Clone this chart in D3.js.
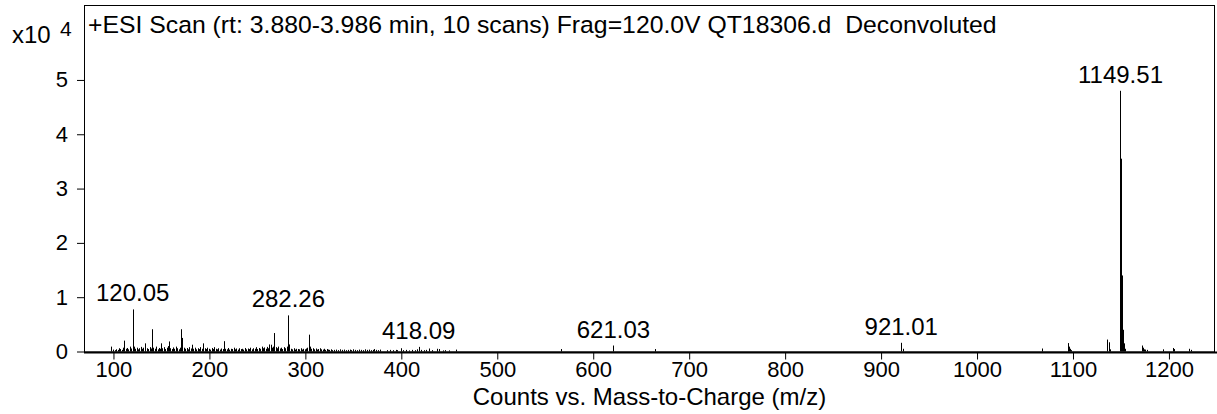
<!DOCTYPE html>
<html><head><meta charset="utf-8">
<script src="https://cdn.jsdelivr.net/npm/d3@7"></script>
<style>
body{margin:0;background:#fff}
text{font-family:"Liberation Sans",Arial,sans-serif;fill:#000}
</style>
</head><body>
<svg id="c" width="1217" height="414"></svg>
<script>
// ---- data (m/z, counts) ----
const mz = [
97.7,99.5,101.2,102.8,104.3,105.6,107.1,108.4,109.8,111.3,112.6,114.1,115.5,116.8,118.2,120.05,121.2,122.6,124.1,125.5,
127.0,128.4,129.9,131.2,133.3,134.8,136.2,137.7,139.1,140.3,141.6,143.1,144.5,145.9,147.3,148.6,149.8,151.1,152.5,154.0,
155.4,156.7,157.9,159.3,160.8,162.2,163.5,165.0,166.4,167.8,169.1,170.3,171.9,173.3,174.8,176.2,177.6,179.0,180.5,182.0,
183.4,184.9,186.3,187.7,189.1,190.6,192.0,193.6,195.0,196.5,197.9,199.3,200.8,202.2,203.7,205.1,206.5,208.0,209.4,210.9,
212.3,213.7,215.0,216.5,218.0,219.4,220.9,222.3,223.8,225.2,226.7,228.1,229.6,231.0,232.5,233.9,235.4,236.8,238.3,239.7,
241.2,242.6,244.1,245.5,247.0,248.4,249.9,251.3,252.8,254.3,255.7,257.2,258.6,260.1,261.5,262.6,264.0,265.4,266.5,267.6,
268.9,270.3,271.8,273.2,274.7,276.1,277.6,279.0,280.5,282.26,283.4,284.9,286.3,287.8,289.2,290.7,292.1,293.6,295.0,296.5,
297.9,299.4,300.8,302.2,303.5,304.8,306.2,307.7,309.1,310.6,312.0,313.5,315.0,316.4,317.9,319.3,320.8,322.2,323.7,325.1,
326.6,328.0,330.0,332.0,334.0,336.0,338.0,340.0,342.0,344.0,346.0,348.0,350.0,352.0,354.0,356.0,358.0,360.0,362.0,364.0,
366.0,368.0,370.0,372.0,374.0,376.0,378.0,385,388,391,394,396,399.3,402,405,408,411,414,416,418.09,
421,424,426,429,432,436.8,439.6,443,446,450,457,
566,621.03,664.4,921.01,922.5,1067.4,1094.5,1095.3,1096.3,1097.3,1098.3,1135.7,1137.5,1138.6,
1149.51,1150.5,1151.5,1152.5,1153.5,1154.5,1172.3,1173.3,1174.3,1175.5,1177,1194,1204.5,1205.5,1221,1222.5
];
const counts = [
900,350,250,400,300,600,450,300,700,2000,500,650,400,900,550,7750,900,500,700,400,
600,850,500,700,1500,600,450,800,550,4100,700,500,900,400,650,500,1500,600,800,450,
700,1000,1850,600,450,750,500,900,600,400,700,4100,2500,700,500,650,400,800,550,1250,
500,700,400,600,450,800,500,1500,600,450,700,500,350,650,450,800,500,400,600,350,
550,450,1900,500,400,650,350,500,450,700,400,550,350,600,450,500,350,650,400,550,
450,700,400,600,500,800,450,650,500,900,600,750,500,850,600,1300,1250,700,900,3400,
800,600,900,550,700,450,800,600,900,6650,1300,500,400,600,350,500,450,400,600,350,
500,400,550,700,3100,900,500,600,400,550,350,450,600,400,350,500,300,450,350,300,
400,250,300,350,250,400,300,350,250,300,350,250,400,300,250,350,300,250,400,300,
350,250,300,450,300,250,350,250,300,250,300,250,600,250,300,200,300,250,400,850,
300,250,300,550,250,500,450,200,250,200,350,
450,1100,450,1600,500,550,1100,1550,900,500,250,2200,1700,400,
48000,35500,14000,4000,1500,500,1100,700,400,350,300,400,650,450,500,300
];
const labeledPeaks = [120.05, 282.26, 418.09, 621.03, 921.01, 1149.51];
const xTicks = [100,200,300,400,500,600,700,800,900,1000,1100,1200];
const yTicks = [0,10000,20000,30000,40000,50000];
const yTickLabels = ["0","1","2","3","4","5"];
const titleText = "+ESI Scan (rt: 3.880-3.986 min, 10 scans) Frag=120.0V QT18306.d  Deconvoluted";
const xTitle = "Counts vs. Mass-to-Charge (m/z)";
const yMult = "x10";
const yExp = "4";

// ---- drawing ----
const FONT = '"Liberation Sans",Arial,sans-serif';
const svg = d3.select("#c");
const L = 84, R = 1215, T = 5, B = 351.5;
const x = d3.scaleLinear().domain([69.3, 1248]).range([L, R]);
const y = d3.scaleLinear().domain([0, 63800]).range([B, T]);

const data = mz.map((m, i) => ({m, c: counts[i]}));

// sticks
svg.append("g").selectAll("line").data(data).join("line")
  .attr("x1", d => Math.round(x(d.m)) + 0.5).attr("x2", d => Math.round(x(d.m)) + 0.5)
  .attr("y1", y(0)).attr("y2", d => y(d.c))
  .attr("stroke", "#000").attr("stroke-width", 1);

// frame
svg.append("rect").attr("x", L + 0.5).attr("y", T + 0.5)
  .attr("width", R - L - 1).attr("height", B - T)
  .attr("fill", "none").attr("stroke", "#000").attr("stroke-width", 1);

// x axis
const xAxis = d3.axisBottom(x).tickValues(xTicks).tickFormat(d3.format("d"))
  .tickSize(7).tickSizeOuter(0).tickPadding(2);
const gx = svg.append("g").attr("transform", `translate(0,${B + 1})`).call(xAxis);
gx.select(".domain").remove();
gx.selectAll("text").style("font-size", "22px").style("font-family", FONT);
svg.append("line").attr("x1", L).attr("x2", R + 2).attr("y1", B + 1).attr("y2", B + 1)
  .attr("stroke", "#000").attr("stroke-width", 2);

// y axis
const yAxis = d3.axisLeft(y).tickValues(yTicks).tickFormat((d, i) => yTickLabels[i])
  .tickSize(7).tickSizeOuter(0).tickPadding(9);
const gy = svg.append("g").attr("transform", `translate(${L},0)`).call(yAxis);
gy.select(".domain").remove();
gy.selectAll("text").style("font-size", "22px").style("font-family", FONT);

// multiplier
svg.append("text").attr("x", 12).attr("y", 43).style("font-size", "24px").text(yMult);
svg.append("text").attr("x", 60).attr("y", 36).style("font-size", "21px").text(yExp);

// title
const t = svg.append("text").attr("x", 88).attr("y", 33).style("white-space", "pre")
  .style("font-size", "20px").text(titleText);
const w = t.node().getComputedTextLength();
t.style("font-size", (20 * 909 / w).toFixed(2) + "px");

// x axis title
svg.append("text").attr("x", (L + R) / 2).attr("y", 405).attr("text-anchor", "middle")
  .style("font-size", "24px").text(xTitle);

// peak labels
svg.append("g").selectAll("text").data(data.filter(d => labeledPeaks.includes(d.m))).join("text")
  .attr("x", d => x(d.m)).attr("y", d => y(d.c) - 8).attr("text-anchor", "middle")
  .style("font-size", "24px").text(d => d.m.toFixed(2));
</script>
</body></html>
